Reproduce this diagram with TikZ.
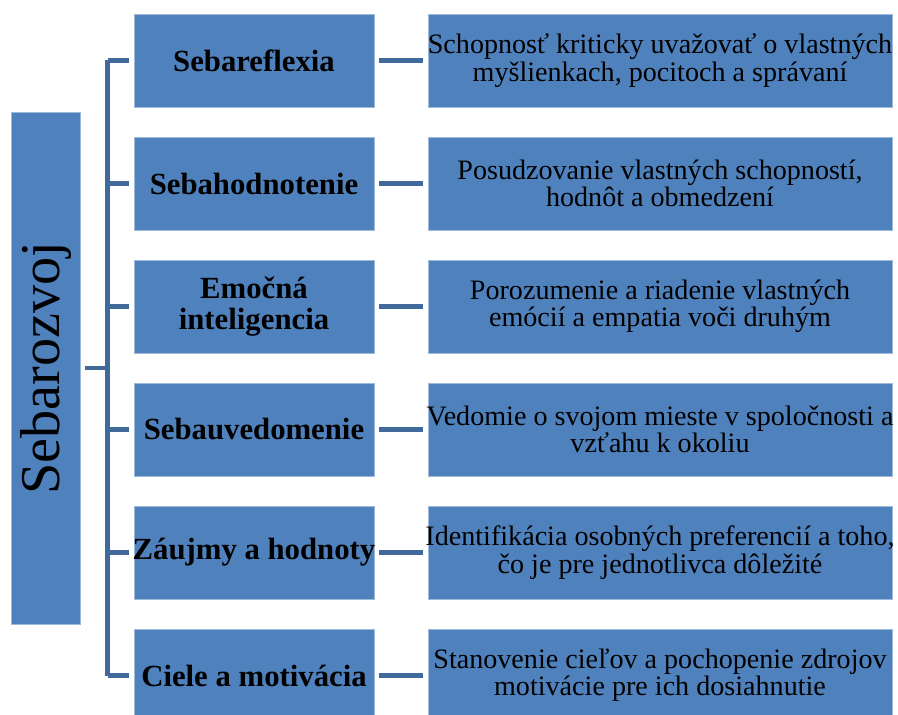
\documentclass[tikz,border=0pt]{standalone}
\usepackage{fontspec}
\setmainfont{Liberation Serif}
\usetikzlibrary{positioning,calc}
\definecolor{boxblue}{HTML}{4F81BD}
\definecolor{lineblue}{HTML}{41699B}

\begin{document}
\begin{tikzpicture}[x=0.02cm, y=-0.02cm]
    % Styles
    \tikzstyle{rootbox} = [rectangle, fill=boxblue, draw=boxblue!55!white, line width=0.5pt, minimum width=1.38cm, minimum height=10.24cm, inner sep=0pt, font=\fontsize{32}{33}\selectfont]
    \tikzstyle{area} = [rectangle, fill=boxblue, draw=boxblue!55!white, line width=0.5pt, minimum width=4.8cm, minimum height=1.86cm, inner xsep=-8pt, inner ysep=1pt, align=center, font=\bfseries\fontsize{17.5}{18}\selectfont]
    \tikzstyle{desc} = [rectangle, fill=boxblue, draw=boxblue!55!white, line width=0.5pt, minimum width=9.28cm, minimum height=1.86cm, inner xsep=-8pt, inner ysep=1pt, align=center, font=\fontsize{16}{15.5}\selectfont]
    \tikzstyle{link} = [draw=lineblue, line width=2.8pt, shorten <=2.8pt, shorten >=2.8pt]

    \useasboundingbox (0,0) rectangle (898,715);
    \clip (0,0) rectangle (898,715);

    % Root
    \node[rootbox] (root) at (45.5,368) {\rotatebox{90}{Sebarozvoj}};

    % Areas
    \node[area] (reflex) at (254,60.5) {Sebareflexia};
    \node[area] (rating) at (254,183.5) {Sebahodnotenie};
    \node[area] (emotion) at (254,306.5) {Emočná\\inteligencia};
    \node[area] (aware) at (254,429.5) {Sebauvedomenie};
    \node[area] (values) at (254,552.5) {Záujmy a hodnoty};
    \node[area] (goals) at (254,675.5) {Ciele a motivácia};

    % Descriptions
    \node[desc] (reflexd) at (660,60.5) {Schopnosť kriticky uvažovať o vlastných\\myšlienkach, pocitoch a správaní};
    \node[desc] (ratingd) at (660,183.5) {Posudzovanie vlastných schopností,\\hodnôt a obmedzení};
    \node[desc] (emotiond) at (660,306.5) {Porozumenie a riadenie vlastných\\emócií a empatia voči druhým};
    \node[desc] (awared) at (660,429.5) {Vedomie o svojom mieste v spoločnosti a\\vzťahu k okoliu};
    \node[desc] (valuesd) at (660,552.5) {Identifikácia osobných preferencií a toho,\\čo je pre jednotlivca dôležité};
    \node[desc] (goalsd) at (660,675.5) {Stanovenie cieľov a pochopenie zdrojov\\motivácie pre ich dosiahnutie};

    % Bracket
    \coordinate (trunk) at (107.5,368);
    \draw[link, shorten >=0pt] (root.east) -- (trunk);
    \draw[draw=lineblue, line width=2.8pt] (trunk|-reflex.west) -- (trunk|-goals.west);
    \draw[link, shorten <=0pt] (trunk|-reflex.west) -- (reflex);
    \draw[link, shorten <=0pt] (trunk|-rating.west) -- (rating);
    \draw[link, shorten <=0pt] (trunk|-emotion.west) -- (emotion);
    \draw[link, shorten <=0pt] (trunk|-aware.west) -- (aware);
    \draw[link, shorten <=0pt] (trunk|-values.west) -- (values);
    \draw[link, shorten <=0pt] (trunk|-goals.west) -- (goals);

    % Links
    \draw[link] (reflex) -- (reflexd);
    \draw[link] (rating) -- (ratingd);
    \draw[link] (emotion) -- (emotiond);
    \draw[link] (aware) -- (awared);
    \draw[link] (values) -- (valuesd);
    \draw[link] (goals) -- (goalsd);
\end{tikzpicture}
\end{document}
